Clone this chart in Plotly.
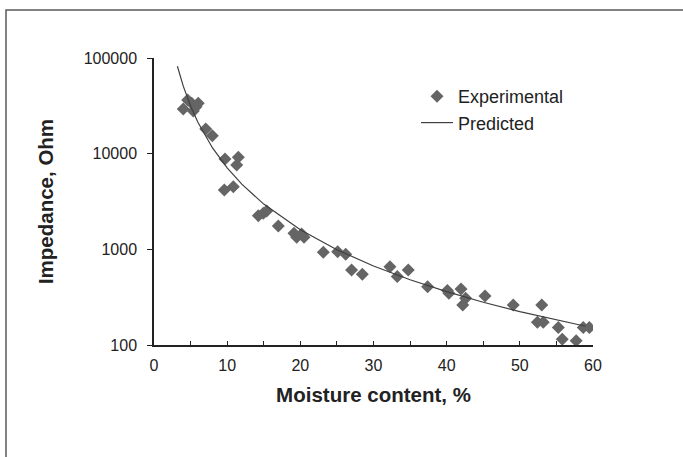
import plotly.graph_objects as go

exp_moisture = [4.0, 4.6, 5.15, 5.37, 5.74, 6.05, 7.07, 7.97, 9.61, 9.70, 10.84, 11.30, 11.52,
                14.26, 14.94, 15.4, 16.99, 19.13, 19.5, 20.18, 20.5, 23.14, 25.1, 26.2, 27.0,
                28.47, 32.25, 33.25, 34.75, 37.4, 40.1, 40.3, 41.96, 42.2, 42.6, 45.24, 49.1,
                52.4, 53.0, 53.2, 55.26, 55.8, 57.7, 58.67, 59.5]
exp_impedance = [29300, 36400, 33600, 27900, 31000, 33600, 18100, 15400, 4180, 8800, 4520, 7620, 9170,
                 2250, 2380, 2520, 1757, 1472, 1336, 1449, 1336, 933, 946, 889, 609,
                 550, 659, 519, 609, 407, 371, 348, 386, 262, 308, 326, 262,
                 173, 262, 173, 152, 115, 111, 152, 152]

# Predicted curve
pred_moisture = [3.2, 4, 5, 6, 8, 10, 12, 15, 20, 25, 30, 35, 40, 45, 50, 55, 59]
pred_impedance = [82000, 50800, 31500, 21300, 11470, 7100, 4800, 2970, 1600, 990, 670, 481,
                  361, 280, 223, 182, 157]

y_tickvals = [100, 1000, 10000, 100000]
y_ticktext = ["100", "1000", "10000", "100000"]

FONT = "Liberation Sans, Arial, sans-serif"
TXT = "#222222"

fig = go.Figure()
fig.add_trace(go.Scatter(
    x=exp_moisture, y=exp_impedance, mode="markers", name="Experimental",
    marker=dict(symbol="diamond", size=10, color="#656565", line=dict(width=0)),
))
fig.add_trace(go.Scatter(
    x=pred_moisture, y=pred_impedance, mode="lines", name="Predicted",
    line=dict(color="#404040", width=1.2),
))

L, R, T, B = 154, 90, 58, 112
W, H = 683, 457
pw, ph = W - L - R, H - T - B

def px(x):
    return (x - L) / pw

def py(y):
    return (H - B - y) / ph

fig.add_shape(type="rect", xref="paper", yref="paper",
              x0=px(6), x1=px(700), y0=py(470), y1=py(10),
              line=dict(color="#5a5a5a", width=1.5), fillcolor="rgba(0,0,0,0)", layer="below")

fig.update_layout(
    width=W, height=H,
    margin=dict(l=L, r=R, t=T, b=B),
    paper_bgcolor="white", plot_bgcolor="white",
    font=dict(family=FONT, size=16, color=TXT),
    showlegend=True,
    legend=dict(x=px(416), y=py(78), xanchor="left", yanchor="top",
                bgcolor="rgba(0,0,0,0)", font=dict(size=18, color=TXT),
                itemwidth=32, tracegroupgap=0),
    xaxis=dict(
        range=[0, 60], dtick=10, tick0=0,
        showgrid=False, zeroline=False,
        showline=True, linecolor=TXT, linewidth=1.5,
        ticks="inside", ticklen=4, tickcolor=TXT, tickwidth=1,
        ticklabelstandoff=5,
        minor=dict(dtick=5, ticks="inside", ticklen=4, tickcolor=TXT, showgrid=False),
        tickfont=dict(size=16, family=FONT, color=TXT),
        title=dict(text="<b>Moisture content, %</b>", standoff=15,
                   font=dict(size=20.5, family=FONT, color=TXT)),
    ),
    yaxis=dict(
        type="log", range=[2, 5],
        tickvals=y_tickvals, ticktext=y_ticktext,
        showgrid=False, zeroline=False,
        showline=True, linecolor=TXT, linewidth=1.5,
        ticks="outside", ticklen=5, tickcolor=TXT, tickwidth=1,
        ticklabelstandoff=7,
        tickfont=dict(size=16, family=FONT, color=TXT),
        title=dict(text="<b>Impedance, Ohm</b>", standoff=24,
                   font=dict(size=20.5, family=FONT, color=TXT)),
    ),
)

fig.write_html("out.html")
